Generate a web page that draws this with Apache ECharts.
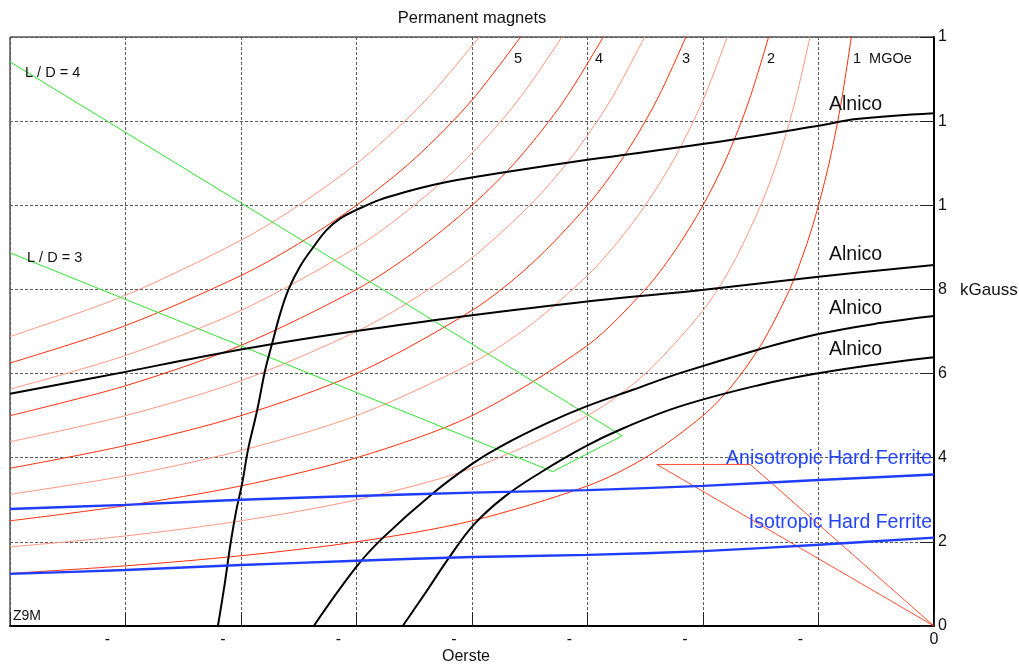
<!DOCTYPE html>
<html><head><meta charset="utf-8">
<script src="https://cdn.jsdelivr.net/npm/echarts@6/dist/echarts.min.js"></script>
<style>html,body{margin:0;padding:0;background:#fff}#c{width:1019px;height:670px}</style>
</head><body><div id="c"></div>
<script>
// ---- Axis ticks (Oersted, kGauss) ----
const xTickValues = [-800,-700,-600,-500,-400,-300,-200,-100,0];
const xTickLabels = ['','-','-','-','-','-','-','-','0'];
const yTickValues = [0,2,4,6,8,10,12,14];
const yTickLabels = ['0','2','4','6','8','1','1','1'];

// ---- Energy-product curves [H (Oe), B (kG)] ----
const bh10 = [[-800,1.25],[-700,1.43],[-600,1.67],[-500,2.0],[-400,2.5],[-300,3.33],[-250,4.0],[-200,5.0],[-175,5.71],[-150,6.67],[-125,8.0],[-110,9.09],[-100,10.0],[-90,11.1],[-80,12.5],[-70,14.3]];
const bh15 = [[-800,1.88],[-700,2.14],[-600,2.5],[-500,3.0],[-400,3.75],[-300,5.0],[-250,6.0],[-200,7.5],[-175,8.57],[-150,10.0],[-135,11.1],[-120,12.5],[-105,14.3]];
const bh20 = [[-800,2.5],[-700,2.86],[-600,3.33],[-500,4.0],[-400,5.0],[-300,6.67],[-250,8.0],[-225,8.89],[-200,10.0],[-180,11.1],[-160,12.5],[-140,14.3]];
const bh25 = [[-800,3.13],[-700,3.57],[-600,4.17],[-500,5.0],[-400,6.25],[-350,7.14],[-300,8.33],[-275,9.09],[-250,10.0],[-225,11.1],[-200,12.5],[-175,14.3]];
const bh30 = [[-800,3.75],[-700,4.29],[-600,5.0],[-500,6.0],[-400,7.5],[-350,8.57],[-300,10.0],[-270,11.1],[-240,12.5],[-210,14.3]];
const bh35 = [[-800,4.38],[-700,5.0],[-600,5.83],[-500,7.0],[-450,7.78],[-400,8.75],[-350,10.0],[-315,11.1],[-280,12.5],[-245,14.3]];
const bh40 = [[-800,5.0],[-700,5.71],[-600,6.67],[-500,8.0],[-450,8.89],[-400,10.0],[-360,11.1],[-320,12.5],[-280,14.3]];
const bh45 = [[-800,5.63],[-700,6.43],[-600,7.5],[-500,9.0],[-450,10.0],[-405,11.1],[-360,12.5],[-315,14.3]];
const bh50 = [[-800,6.25],[-700,7.14],[-600,8.33],[-550,9.09],[-500,10.0],[-450,11.1],[-400,12.5],[-350,14.3]];
const bh55 = [[-800,6.88],[-700,7.86],[-600,9.17],[-550,10.0],[-495,11.1],[-440,12.5],[-385,14.3]];

// ---- Demagnetisation curves ----
const alnicoA = [[-620,0],[-614,1.02],[-609,1.97],[-604,2.76],[-599,3.39],[-594,4.18],[-586,5.13],[-579,6.09],[-573,6.72],[-566,7.43],[-559,7.99],[-549,8.54],[-537,9.02],[-526,9.41],[-514,9.69],[-500,9.89],[-480,10.13],[-457,10.32],[-434,10.48],[-413,10.60],[-376,10.77],[-300,11.08],[-199,11.46],[-100,11.89],[-67,12.05],[0,12.19]];
const alnicoB = [[-800,5.52],[-700,6.04],[-636,6.39],[-566,6.73],[-500,7.01],[-410,7.35],[-295,7.73],[-199,7.99],[-100,8.30],[0,8.58]];
const alnicoC = [[-537,0],[-500,1.41],[-477,2.10],[-434,3.15],[-399,3.87],[-375,4.27],[-335,4.82],[-301,5.22],[-260,5.62],[-220,6.01],[-151,6.58],[-100,6.94],[-47,7.20],[0,7.37]];
const alnicoD = [[-460,0],[-440,0.80],[-420,1.62],[-398,2.42],[-372,3.07],[-340,3.66],[-301,4.28],[-269,4.70],[-220,5.22],[-151,5.73],[-100,6.01],[-47,6.23],[0,6.39]];
const ferriteAniso = [[-800,2.78],[-700,2.88],[-600,3.0],[-500,3.09],[-400,3.17],[-300,3.23],[-200,3.33],[-100,3.47],[0,3.60]];
const ferriteIso = [[-800,1.24],[-700,1.33],[-600,1.45],[-500,1.55],[-400,1.64],[-300,1.69],[-200,1.78],[-100,1.93],[0,2.10]];

// ---- Load lines ----
const loadLD = [[-800,13.41],[-270,4.52],[-330,3.67],[-800,8.87]];
const loadFerrite = [[0,0],[-240,3.84],[-159,3.84],[0,0]];

const FONT = '"Liberation Sans", Arial, Helvetica, sans-serif';
const DARK_RED = '#ff2d0a', LIGHT_RED = '#ff9682';

function lineSeries(data, color, width, z, sm) {
  return { type:'line', data:data, showSymbol:false, symbol:'none', silent:true,
    smooth:sm, animation:false, z:z,
    lineStyle:{color:color, width:width} };
}
const series = [];
[bh15,bh25,bh35,bh45,bh55].forEach(d=>series.push(lineSeries(d, LIGHT_RED, 1, 2, 0.3)));
[bh10,bh20,bh30,bh40,bh50].forEach(d=>series.push(lineSeries(d, DARK_RED, 1, 3, 0.3)));
series.push({type:'line', data:loadFerrite, showSymbol:false, symbol:'none', silent:true, animation:false, z:3, lineStyle:{color:'#ff3a1a', width:0.9}});
series.push({type:'line', data:loadLD, showSymbol:false, symbol:'none', silent:true, animation:false, z:4, lineStyle:{color:'#2ee62e', width:1}});
[alnicoA,alnicoB,alnicoC,alnicoD].forEach(d=>series.push(lineSeries(d, '#000', 2, 5, 0.4)));
[ferriteAniso,ferriteIso].forEach(d=>series.push(lineSeries(d, '#1f3dff', 2.4, 6, 0.25)));

function txt(x,y,t,size,opts){
  return Object.assign({type:'text', x:x, y:y, silent:true, z:100,
    style:Object.assign({text:t, font:size+'px '+FONT, fill:'#111', textVerticalAlign:'middle', textAlign:'left'}, opts||{})});
}

// tick-only helper axes, pushed 7px inside the plot so that their outward ticks sit inside the frame
const TICK = {show:true, length:7, lineStyle:{color:'#222', width:1}};
function tickX(pos){ return {type:'value', min:-800, max:0, interval:100, position:pos, offset:-7,
  axisLine:{show:false}, axisLabel:{show:false}, splitLine:{show:false}, axisTick:TICK}; }
function tickY(pos){ return {type:'value', min:0, max:14, interval:2, position:pos, offset:-7,
  axisLine:{show:false}, axisLabel:{show:false}, splitLine:{show:false}, axisTick:TICK}; }
const GRID_LINE = {show:true, lineStyle:{color:'#5a5a5a', width:1, type:[3,2]}};

const chart = echarts.init(document.getElementById('c'), null, {renderer:'canvas'});
chart.setOption({
  animation:false,
  backgroundColor:'#fff',
  grid:{left:10, right:85, top:37, bottom:44, show:true, borderColor:'#000', borderWidth:1, containLabel:false},
  xAxis:[{
    type:'value', min:-800, max:0, interval:100, position:'bottom',
    axisLine:{show:true, onZero:false, lineStyle:{color:'#000', width:2}},
    axisTick:{show:false},
    axisLabel:{show:true, margin:6, fontFamily:FONT, fontSize:16, color:'#111', showMinLabel:true, showMaxLabel:true,
      formatter:function(v){ const i = xTickValues.indexOf(v); const s = i>=0 ? xTickLabels[i] : ''; return s==='-' ? '{m|-}' : s; },
      rich:{m:{fontFamily:FONT, fontSize:16, color:'#111', padding:[0,36,0,0]}}},
    splitLine:GRID_LINE
  }, tickX('bottom'), tickX('top')],
  yAxis:[{
    type:'value', min:0, max:14, interval:2, position:'right',
    axisLine:{show:true, onZero:false, lineStyle:{color:'#000', width:2}},
    axisTick:{show:false},
    axisLabel:{show:true, margin:4, fontFamily:FONT, fontSize:16, color:'#111',
      formatter:function(v){ const i = yTickValues.indexOf(v); return i>=0 ? yTickLabels[i] : ''; }},
    splitLine:GRID_LINE
  }, tickY('right'), tickY('left')],
  series: series,
  graphic:[
    txt(472,18,'Permanent magnets',16.5,{textAlign:'center'}),
    txt(466,657,'Oerste',16,{textAlign:'center'}),
    txt(960,290,'kGauss',17),
    txt(518,59,'5',14.5,{textAlign:'center'}),
    txt(599,59,'4',14.5,{textAlign:'center'}),
    txt(686,59,'3',14.5,{textAlign:'center'}),
    txt(771,59,'2',14.5,{textAlign:'center'}),
    txt(853,59,'1  MGOe',14.5),
    txt(25,73,'L / D = 4',14.5),
    txt(27,258,'L / D = 3',14.5),
    txt(829,105,'Alnico',19.5),
    txt(829,255,'Alnico',19.5),
    txt(829,309,'Alnico',19.5),
    txt(829,350,'Alnico',19.5),
    txt(932,459,'Anisotropic Hard Ferrite',19.5,{textAlign:'right', fill:'#2343ff'}),
    txt(932,523,'Isotropic Hard Ferrite',19.5,{textAlign:'right', fill:'#2343ff'}),
    txt(13,616,'Z9M',14)
  ]
});
</script></body></html>
